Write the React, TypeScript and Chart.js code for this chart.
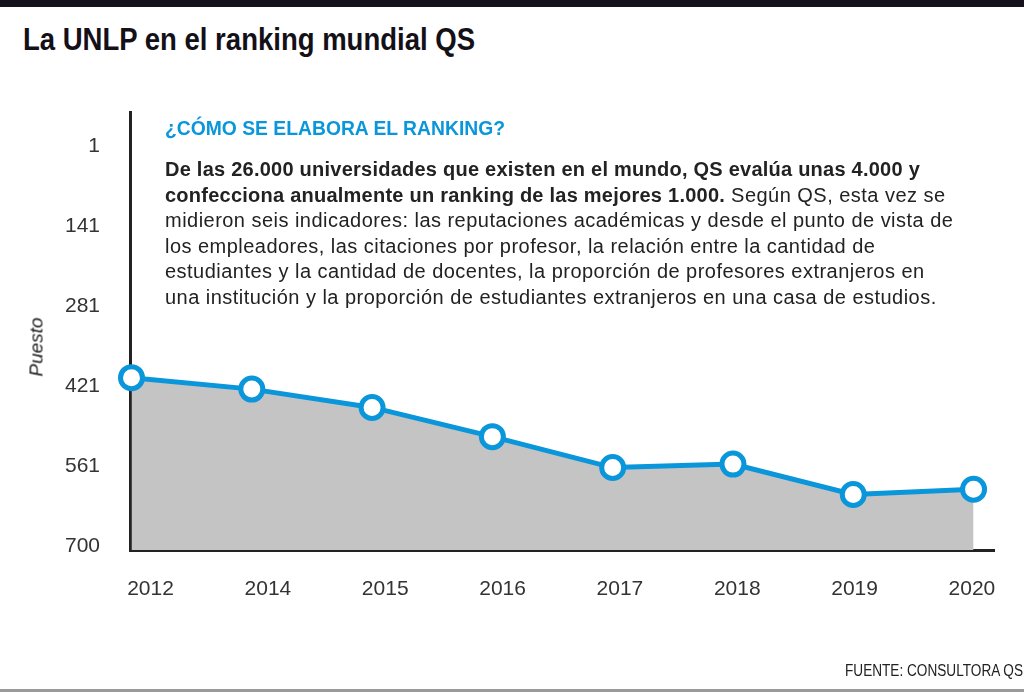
import React, { useEffect, useLayoutEffect, useRef } from "react";
import { Chart, registerables } from "chart.js";

Chart.register(...registerables);

const years = ["2012", "2014", "2015", "2016", "2017", "2018", "2019", "2020"];
const puesto = [406, 426, 458, 509, 563, 557, 610, 601];
const yTickValues = [1, 141, 281, 421, 561, 700];

const Y_MIN = -58;
const Y_MAX = 707;

const BLUE = "#0a96da";
const TEXT = "#222222";
const SANS = "'Liberation Sans', Arial, sans-serif";

function FitText(props: { width: number; style: React.CSSProperties; children: React.ReactNode }) {
  const ref = useRef<HTMLSpanElement | null>(null);
  useLayoutEffect(() => {
    const el = ref.current;
    if (!el) return;
    el.style.transform = "none";
    const w = el.getBoundingClientRect().width;
    if (w > 0) el.style.transform = `scaleX(${props.width / w})`;
  }, [props.width]);
  return (
    <span
      ref={ref}
      style={{
        position: "absolute",
        display: "inline-block",
        whiteSpace: "nowrap",
        transformOrigin: "0 0",
        ...props.style,
      }}
    >
      {props.children}
    </span>
  );
}

export default function App() {
  const canvasRef = useRef<HTMLCanvasElement | null>(null);

  useEffect(() => {
    const canvas = canvasRef.current;
    if (!canvas) return;
    const chart = new Chart(canvas, {
      type: "line",
      data: {
        datasets: [
          {
            data: puesto.map((v, i) => ({ x: i, y: v })),
            xAxisID: "x",
            yAxisID: "y",
            borderColor: BLUE,
            borderWidth: 5,
            backgroundColor: "#c4c4c4",
            fill: { value: Y_MAX },
            tension: 0,
            pointRadius: 11,
            pointBorderWidth: 5,
            pointBackgroundColor: "#ffffff",
            pointBorderColor: BLUE,
            clip: false,
          } as any,
        ],
      },
      options: {
        animation: false,
        responsive: false,
        maintainAspectRatio: false,
        layout: { padding: { top: 112, right: 30, left: 0, bottom: 0 } },
        plugins: {
          legend: { display: false },
          tooltip: { enabled: false },
          title: { display: false },
        },
        scales: {
          x: {
            type: "linear",
            display: false,
            min: -0.0125,
            max: 7.17,
          },
          xl: {
            type: "linear",
            position: "bottom",
            z: 1,
            min: -0.175,
            max: 7.188,
            afterBuildTicks: (s: any) => {
              s.ticks = years.map((_, i) => ({ value: i }));
            },
            afterFit: (s: any) => {
              s.height = 142;
              s.paddingLeft = 0;
              s.paddingRight = 0;
            },
            grid: { display: true, drawOnChartArea: false, drawTicks: false },
            border: { display: true, color: "#222222", width: 3 },
            ticks: {
              autoSkip: false,
              maxRotation: 0,
              padding: 27,
              color: "#333333",
              font: { family: SANS, size: 21 },
              callback: (v: any) => years[Math.round(Number(v))] ?? "",
            },
          },
          y: {
            type: "linear",
            reverse: true,
            min: Y_MIN,
            max: Y_MAX,
            afterBuildTicks: (s: any) => {
              s.ticks = yTickValues.map((v) => ({ value: v }));
            },
            afterFit: (s: any) => {
              s.width = 130;
              s.paddingTop = 0;
              s.paddingBottom = 0;
            },
            grid: { display: true, drawOnChartArea: false, drawTicks: false },
            border: { display: true, color: "#222222", width: 3 },
            ticks: {
              padding: 30,
              color: "#333333",
              font: { family: SANS, size: 21 },
              callback: (v: any) => String(v),
            },
          },
        } as any,
      },
    });
    return () => chart.destroy();
  }, []);

  const reg: React.CSSProperties = { letterSpacing: "0.47px" };
  const bold: React.CSSProperties = { fontWeight: 700, letterSpacing: "0.24px" };

  return (
    <div
      style={{
        position: "fixed",
        left: 0,
        top: 0,
        width: 1024,
        height: 692,
        background: "#ffffff",
        overflow: "hidden",
        fontFamily: SANS,
      }}
    >
      <div style={{ position: "absolute", left: 0, top: 0, width: 1024, height: 7, background: "#17111d" }} />
      <FitText
        width={452}
        style={{
          left: 23,
          top: 24,
          fontWeight: 700,
          fontSize: 31,
          lineHeight: "31px",
          color: "#141018",
        }}
      >
        La UNLP en el ranking mundial QS
      </FitText>
      <canvas
        ref={canvasRef}
        width={1024}
        height={692}
        style={{ position: "absolute", left: 0, top: 0, width: 1024, height: 692 }}
      />
      <FitText
        width={340}
        style={{
          left: 165,
          top: 118,
          fontWeight: 700,
          fontSize: 20,
          lineHeight: "20px",
          color: BLUE,
        }}
      >
        ¿CÓMO SE ELABORA EL RANKING?
      </FitText>
      <div
        style={{
          position: "absolute",
          left: 165,
          top: 157,
          fontSize: 20,
          lineHeight: "25.6px",
          color: TEXT,
          whiteSpace: "nowrap",
        }}
      >
        <span style={bold}>De las 26.000 universidades que existen en el mundo, QS evalúa unas 4.000 y</span>
        <br />
        <span style={bold}>confecciona anualmente un ranking de las mejores 1.000.</span>
        <span style={reg}> Según QS, esta vez se</span>
        <br />
        <span style={reg}>midieron seis indicadores: las reputaciones académicas y desde el punto de vista de</span>
        <br />
        <span style={reg}>los empleadores, las citaciones por profesor, la relación entre la cantidad de</span>
        <br />
        <span style={reg}>estudiantes y la cantidad de docentes, la proporción de profesores extranjeros en</span>
        <br />
        <span style={reg}>una institución y la proporción de estudiantes extranjeros en una casa de estudios.</span>
      </div>
      <div
        style={{
          position: "absolute",
          left: 36,
          top: 347,
          transform: "translate(-50%, -50%) rotate(-90deg)",
          fontStyle: "italic",
          fontSize: 19,
          lineHeight: "19px",
          color: TEXT,
          whiteSpace: "nowrap",
        }}
      >
        Puesto
      </div>
      <FitText
        width={178}
        style={{
          left: 845,
          top: 663,
          fontSize: 16,
          lineHeight: "16px",
          color: TEXT,
        }}
      >
        FUENTE: CONSULTORA QS
      </FitText>
      <div style={{ position: "absolute", left: 0, top: 689, width: 1024, height: 3, background: "#9a9a9a" }} />
    </div>
  );
}
